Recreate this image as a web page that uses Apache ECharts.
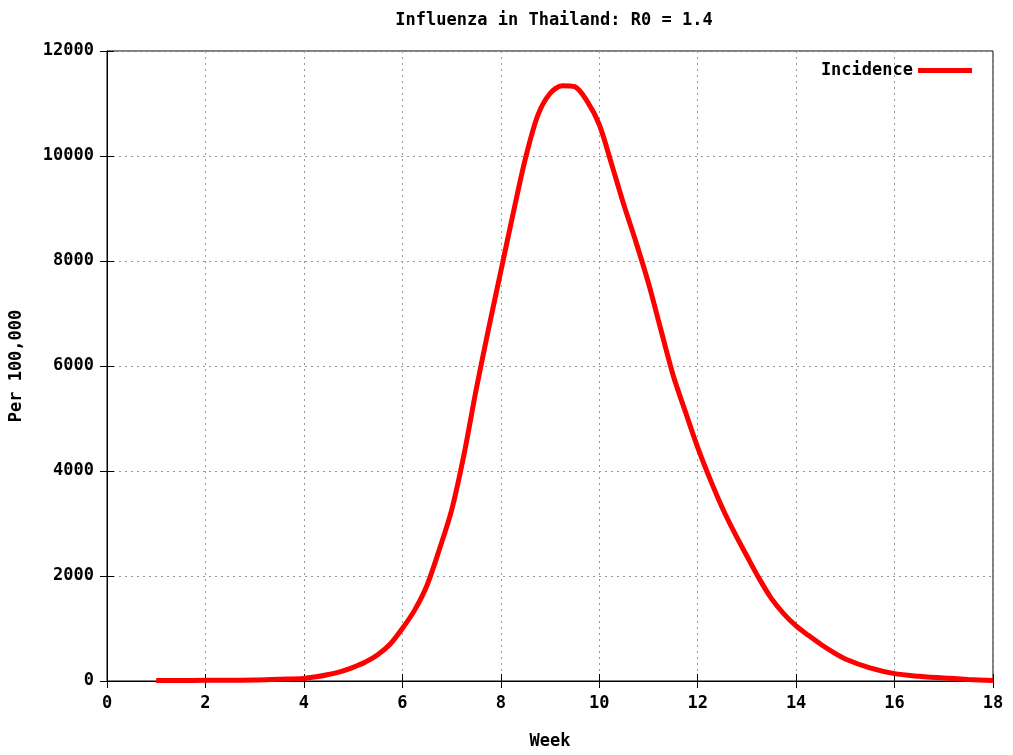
<!DOCTYPE html>
<html>
<head>
<meta charset="utf-8">
<title>Influenza in Thailand</title>
<script src="https://cdn.jsdelivr.net/npm/echarts@6/dist/echarts.min.js"></script>
<style>
  html, body { margin: 0; padding: 0; background: #fff; }
  #chart { width: 1013px; height: 755px; }
</style>
</head>
<body>
<div id="chart"></div>
<script>
// values (quarter-week steps where the curve bends)
var weeks = [1, 1.5, 2, 2.5, 3, 3.5, 4, 4.25, 4.5, 4.75, 5, 5.25, 5.5, 5.75, 6, 6.25, 6.5, 6.75,
             7, 7.25, 7.5, 7.75, 8, 8.25, 8.5, 8.75, 9, 9.25, 9.5, 9.75, 10, 10.25, 10.5, 10.75,
             11, 11.25, 11.5, 11.75, 12, 12.25, 12.5, 12.75, 13, 13.25, 13.5, 13.75, 14, 14.25,
             14.5, 14.75, 15, 15.5, 16, 16.5, 17, 17.5, 18];
var incidence = [10, 10, 12, 15, 20, 35, 50, 80, 125, 180, 260, 360, 500, 700, 1000, 1350, 1820, 2500,
                 3250, 4300, 5550, 6700, 7800, 8900, 9950, 10770, 11190, 11340, 11320, 11050, 10600, 9850, 9070, 8350,
                 7580, 6700, 5830, 5130, 4450, 3850, 3300, 2820, 2380, 1950, 1570, 1280, 1050, 870,
                 700, 550, 420, 250, 140, 90, 55, 30, 10];
var xTicks = [0, 18, 2];      // min, max, interval
var yTicks = [0, 12000, 2000];

var font = 'DejaVu Sans Mono';
var pts = weeks.map(function (w, i) { return [w, incidence[i]]; });

var txt = { fontFamily: font, fontWeight: 'bold', fontSize: 17, color: '#000' };
var dotted = { show: true, lineStyle: { color: '#999', type: [2, 4], width: 1 } };
var blackLine = { show: true, lineStyle: { color: '#000' } };
var inTick = { show: true, inside: true, length: 7, lineStyle: { color: '#000' } };

var option = {
    animation: false,
    backgroundColor: '#fff',
    title: {
        text: 'Influenza in Thailand: R0 = 1.4',
        left: 549, top: 7, textAlign: 'center',
        textStyle: txt
    },
    legend: {
        data: ['Incidence'],
        right: 36, top: 57,
        align: 'right',
        icon: 'rect', itemWidth: 54, itemHeight: 5,
        textStyle: txt
    },
    grid: { left: 105, right: 20, top: 51, bottom: 66, show: true, borderColor: '#000', borderWidth: 1 },
    xAxis: [{
        type: 'value', min: xTicks[0], max: xTicks[1], interval: xTicks[2],
        name: 'Week', nameLocation: 'middle', nameGap: 52, nameTextStyle: txt,
        axisLine: blackLine, axisTick: inTick,
        axisLabel: Object.assign({ margin: 14 }, txt),
        splitLine: dotted
    }, {
        type: 'value', position: 'top', min: xTicks[0], max: xTicks[1], interval: xTicks[2],
        axisLine: blackLine, axisTick: inTick,
        axisLabel: { show: false }, splitLine: { show: false }
    }],
    yAxis: [{
        type: 'value', min: yTicks[0], max: yTicks[1], interval: yTicks[2],
        name: 'Per 100,000', nameLocation: 'middle', nameGap: 82, nameRotate: 90, nameTextStyle: txt,
        axisLine: blackLine, axisTick: inTick,
        axisLabel: Object.assign({ margin: 13, formatter: function (v) { return String(v); } }, txt),
        splitLine: dotted
    }, {
        type: 'value', position: 'right', min: yTicks[0], max: yTicks[1], interval: yTicks[2],
        axisLine: blackLine, axisTick: inTick,
        axisLabel: { show: false }, splitLine: { show: false }
    }],
    series: [{
        name: 'Incidence',
        type: 'line',
        data: pts,
        smooth: 0.3,
        showSymbol: false,
        color: '#ff0000',
        lineStyle: { color: '#ff0000', width: 5 }
    }]
};

var chart = echarts.init(document.getElementById('chart'));
chart.setOption(option);
</script>
</body>
</html>
